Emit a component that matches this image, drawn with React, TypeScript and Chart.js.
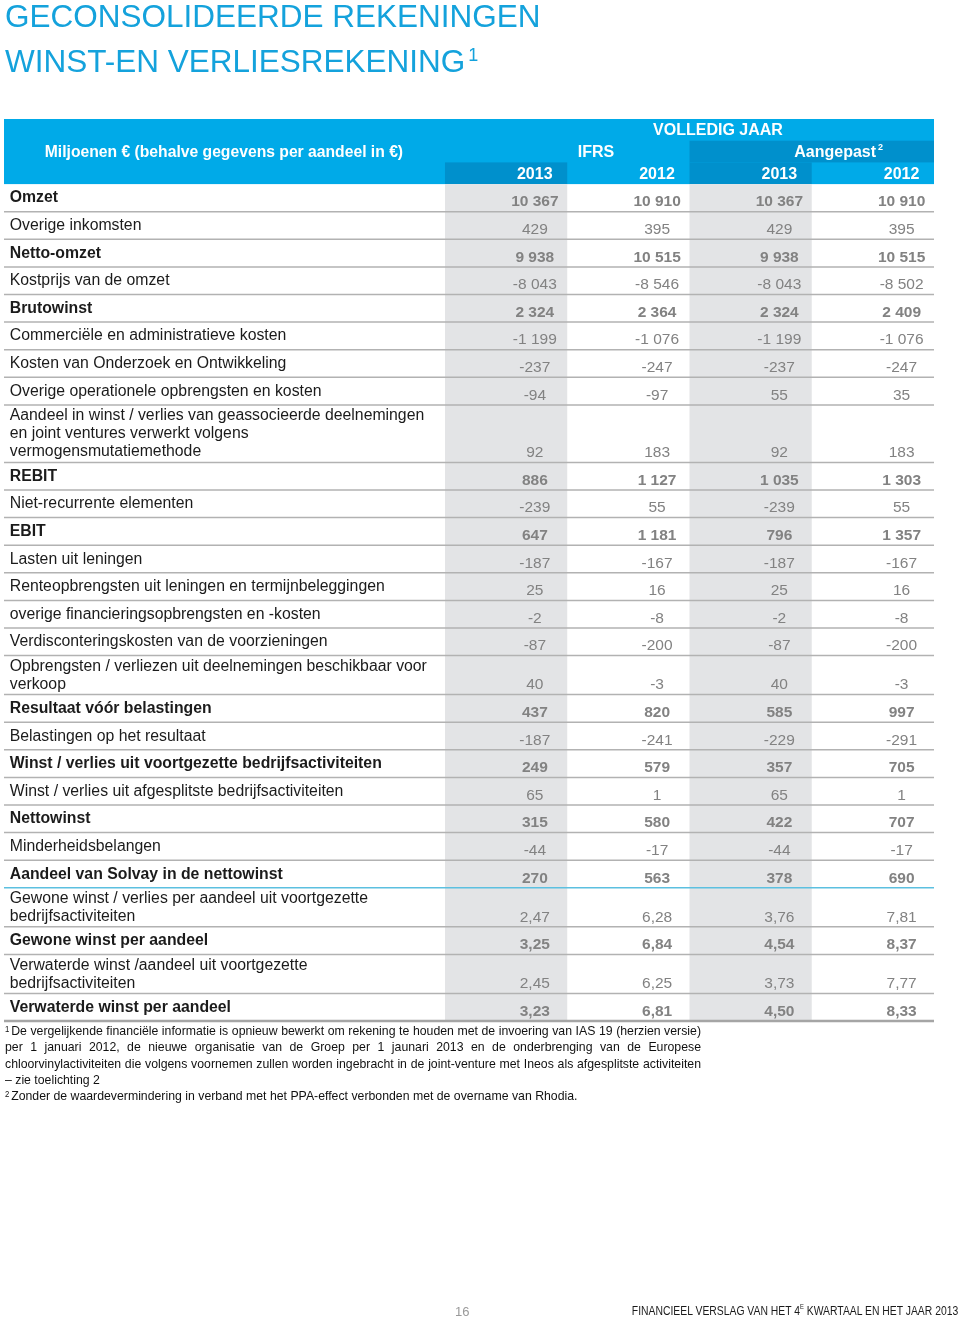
import React, { useEffect, useRef } from "react";
import { Chart, registerables } from "chart.js";

Chart.register(...registerables);

// ---------- Data ----------
const titleLines = ["GECONSOLIDEERDE REKENINGEN", "WINST-EN VERLIESREKENING"];
const unitLabel = "Miljoenen € (behalve gegevens per aandeel in €)";
const periodLabel = "VOLLEDIG JAAR";
const groupLabels = ["IFRS", "Aangepast"];
const yearLabels = ["2013", "2012", "2013", "2012"];

const rowLabels = [
  "Omzet",
  "Overige inkomsten",
  "Netto-omzet",
  "Kostprijs van de omzet",
  "Brutowinst",
  "Commerciële en administratieve kosten",
  "Kosten van Onderzoek en Ontwikkeling",
  "Overige operationele opbrengsten en kosten",
  "Aandeel in winst / verlies van geassocieerde deelnemingen\nen joint ventures verwerkt volgens\nvermogensmutatiemethode",
  "REBIT",
  "Niet-recurrente elementen",
  "EBIT",
  "Lasten uit leningen",
  "Renteopbrengsten uit leningen en termijnbeleggingen",
  "overige financieringsopbrengsten en -kosten",
  "Verdisconteringskosten van de voorzieningen",
  "Opbrengsten / verliezen uit deelnemingen beschikbaar voor\nverkoop",
  "Resultaat vóór belastingen",
  "Belastingen op het resultaat",
  "Winst / verlies uit voortgezette bedrijfsactiviteiten",
  "Winst / verlies uit afgesplitste bedrijfsactiviteiten",
  "Nettowinst",
  "Minderheidsbelangen",
  "Aandeel van Solvay in de nettowinst",
  "Gewone winst / verlies per aandeel uit voortgezette\nbedrijfsactiviteiten",
  "Gewone winst per aandeel",
  "Verwaterde winst /aandeel uit voortgezette\nbedrijfsactiviteiten",
  "Verwaterde winst per aandeel",
];

const subtotalRows = [0, 2, 4, 9, 11, 17, 19, 21, 23, 25, 27];
const perShareRows = [24, 25, 26, 27];
const sectionEndRows = [23];

const ifrs2013 = [10367, 429, 9938, -8043, 2324, -1199, -237, -94, 92, 886, -239, 647, -187, 25, -2, -87, 40, 437, -187, 249, 65, 315, -44, 270, 2.47, 3.25, 2.45, 3.23];
const ifrs2012 = [10910, 395, 10515, -8546, 2364, -1076, -247, -97, 183, 1127, 55, 1181, -167, 16, -8, -200, -3, 820, -241, 579, 1, 580, -17, 563, 6.28, 6.84, 6.25, 6.81];
const adj2013 = [10367, 429, 9938, -8043, 2324, -1199, -237, 55, 92, 1035, -239, 796, -187, 25, -2, -87, 40, 585, -229, 357, 65, 422, -44, 378, 3.76, 4.54, 3.73, 4.5];
const adj2012 = [10910, 395, 10515, -8502, 2409, -1076, -247, 35, 183, 1303, 55, 1357, -167, 16, -8, -200, -3, 997, -291, 705, 1, 707, -17, 690, 7.81, 8.37, 7.77, 8.33];

const seriesColumns = [ifrs2013, ifrs2012, adj2013, adj2012];

const footnote1Lines = [
  "De vergelijkende financiële informatie is opnieuw bewerkt om rekening te houden met de invoering van IAS 19 (herzien versie)",
  "per 1 januari 2012, de nieuwe organisatie van de Groep per 1 jaunari 2013 en de onderbrenging van de Europese",
  "chloorvinylactiviteiten die  volgens voornemen zullen worden ingebracht in de joint-venture met Ineos als afgesplitste activiteiten",
  "– zie toelichting 2",
];
const footnote2 = "Zonder de waardevermindering in verband met het PPA-effect verbonden met de overname van Rhodia.";
const pageNumber = "16";
const footerBefore = "FINANCIEEL VERSLAG VAN HET 4";
const footerSup = "E";
const footerAfter = " KWARTAAL EN HET JAAR 2013";

// ---------- Layout / style ----------
const FONT = '"Liberation Sans", Arial, Helvetica, sans-serif';
const TITLE_BLUE = "#14a2dc";
const HEAD_LIGHT = "#00aae8";
const HEAD_DARK = "#0090cc";
const SHADE = "#e3e4e6";
const RULE = "#b2b2b2";
const RULE_BLUE = "#5cc0e0";
const LABEL_COLOR = "#1b1b1b";
const VALUE_COLOR = "#828282";

const LABEL_UNITS = 3.607;
const HEADER_SUB = 21.7;
const HEADER_H = HEADER_SUB * 3;
const VALUE_CENTER = 0.735;
const YEAR_RIGHT = 0.88;
const LABEL_X = -3.56;

const lineCount = (s: string) => s.split("\n").length;
const rowHeight = (n: number) => (n === 1 ? 27.6 : 2 + 18.5 * n);

const rowTops: number[] = [];
const rowBottoms: number[] = [];
{
  let acc = HEADER_H;
  rowLabels.forEach((l) => {
    rowTops.push(acc);
    acc += rowHeight(lineCount(l));
    rowBottoms.push(acc);
  });
}
const TOTAL = rowBottoms[rowBottoms.length - 1];
const TABLE_TOP = 119;

function fmt(v: number, perShare: boolean) {
  if (perShare) return v.toFixed(2).replace(".", ",");
  const s = Math.abs(v).toString().replace(/\B(?=(\d{3})+(?!\d))/g, " ");
  return (v < 0 ? "-" : "") + s;
}

const tablePlugin = {
  id: "tableCells",
  beforeDatasetsDraw(chart: any) {
    const { ctx } = chart;
    const xs = chart.scales.x;
    const ys = chart.scales.y;
    const X = (v: number) => xs.getPixelForValue(v);
    const Y = (v: number) => ys.getPixelForValue(v);
    const rect = (x0: number, x1: number, y0: number, y1: number, c: string) => {
      ctx.fillStyle = c;
      ctx.fillRect(X(x0), Y(y0), X(x1) - X(x0), Y(y1) - Y(y0));
    };
    ctx.save();
    // header
    rect(-LABEL_UNITS, 4, 0, HEADER_H, HEAD_LIGHT);
    rect(2, 4, HEADER_SUB, HEADER_SUB * 2, HEAD_DARK);
    rect(0, 1, HEADER_SUB * 2, HEADER_H, HEAD_DARK);
    rect(2, 3, HEADER_SUB * 2, HEADER_H, HEAD_DARK);
    // shaded columns
    rect(0, 1, HEADER_H, TOTAL, SHADE);
    rect(2, 3, HEADER_H, TOTAL, SHADE);
    // rules
    rowBottoms.forEach((b, i) => {
      const last = i === rowBottoms.length - 1;
      ctx.strokeStyle = sectionEndRows.includes(i) ? RULE_BLUE : last ? "#a5a5a5" : RULE;
      ctx.lineWidth = last ? 2.5 : 1.5;
      ctx.beginPath();
      ctx.moveTo(X(-LABEL_UNITS), Y(b));
      ctx.lineTo(X(4), Y(b));
      ctx.stroke();
    });
    ctx.restore();
  },
  afterDatasetsDraw(chart: any) {
    const { ctx } = chart;
    const xs = chart.scales.x;
    const ys = chart.scales.y;
    const X = (v: number) => xs.getPixelForValue(v);
    const Y = (v: number) => ys.getPixelForValue(v);
    ctx.save();
    ctx.textBaseline = "middle";
    // header texts
    ctx.fillStyle = "#ffffff";
    ctx.font = `bold 16px ${FONT}`;
    ctx.textAlign = "center";
    ctx.fillText(periodLabel, X(2.233), Y(HEADER_SUB * 0.5 + 1));
    ctx.font = `bold 15.7px ${FONT}`;
    ctx.fillText(unitLabel, X(-1.808), Y(HEADER_SUB * 1.5 + 1.5));
    ctx.font = `bold 16px ${FONT}`;
    ctx.fillText(groupLabels[0], X(1.235), Y(HEADER_SUB * 1.5 + 1.5));
    ctx.textAlign = "right";
    ctx.fillText(groupLabels[1], X(3.526), Y(HEADER_SUB * 1.5 + 1.5));
    ctx.font = `bold 9px ${FONT}`;
    ctx.textAlign = "left";
    ctx.fillText("2", X(3.526) + 2, Y(HEADER_SUB * 1.5 + 1.5) - 6);
    ctx.font = `bold 16px ${FONT}`;
    ctx.textAlign = "right";
    yearLabels.forEach((yl, c) => ctx.fillText(yl, X(c + YEAR_RIGHT), Y(HEADER_SUB * 2.5 + 1.5)));
    // row labels
    ctx.textAlign = "left";
    ctx.fillStyle = LABEL_COLOR;
    rowLabels.forEach((l, i) => {
      ctx.font = `${subtotalRows.includes(i) ? "bold " : ""}15.8px ${FONT}`;
      const lines = l.split("\n");
      const first = lines.length === 1 ? 14 : 11;
      lines.forEach((line, k) => {
        ctx.fillText(line, X(LABEL_X), Y(rowTops[i] + first + 18.1 * k));
      });
    });
    // values from dataset elements
    ctx.textAlign = "center";
    ctx.fillStyle = VALUE_COLOR;
    chart.data.datasets.forEach((_ds: any, di: number) => {
      const meta = chart.getDatasetMeta(di);
      meta.data.forEach((el: any, i: number) => {
        ctx.font = `${subtotalRows.includes(i) ? "bold " : ""}15.5px ${FONT}`;
        ctx.fillText(fmt(seriesColumns[di][i], perShareRows.includes(i)), el.x, el.y);
      });
    });
    ctx.restore();
  },
};

export default function App() {
  const canvasRef = useRef<HTMLCanvasElement | null>(null);

  useEffect(() => {
    const canvas = canvasRef.current;
    if (!canvas) return;
    const chart = new Chart(canvas, {
      type: "scatter",
      data: {
        datasets: seriesColumns.map((vals, c) => ({
          label: yearLabels[c],
          data: vals.map((_v, i) => ({ x: c + VALUE_CENTER, y: rowBottoms[i] - 9.5 })),
          pointRadius: 0,
          showLine: false,
        })),
      },
      options: {
        responsive: false,
        animation: false,
        events: [],
        layout: { padding: { top: TABLE_TOP, left: 4, right: 26, bottom: 1320 - TABLE_TOP - TOTAL } },
        plugins: { legend: { display: false }, tooltip: { enabled: false } },
        scales: {
          x: { type: "linear", display: false, min: -LABEL_UNITS, max: 4 },
          y: { type: "linear", display: false, reverse: true, min: 0, max: TOTAL },
        },
      },
      plugins: [tablePlugin],
    } as any);
    return () => chart.destroy();
  }, []);

  const footTop = TABLE_TOP + TOTAL + 2;
  const NSCALE = 0.91;
  const supStyle = { fontSize: 8.5, verticalAlign: "top", position: "relative" as const, top: -2, marginRight: 2 };

  return (
    <div style={{ position: "absolute", left: 0, top: 0, width: 960, height: 1320, background: "#fff", overflow: "hidden" }}>
      <canvas ref={canvasRef} width={960} height={1320} style={{ position: "absolute", left: 0, top: 0, width: 960, height: 1320 }} />
      <div style={{ position: "absolute", left: 5, top: 0, fontFamily: FONT, fontSize: 31.5, lineHeight: "32px", color: TITLE_BLUE, whiteSpace: "nowrap" }}>
        {titleLines[0]}
      </div>
      <div style={{ position: "absolute", left: 5, top: 45, fontFamily: FONT, fontSize: 31.5, lineHeight: "32px", color: TITLE_BLUE, whiteSpace: "nowrap" }}>
        {titleLines[1]}
        <sup style={{ fontSize: 18, verticalAlign: "top", position: "relative", top: -6, marginLeft: 3 }}>1</sup>
      </div>
      <div
        style={{
          position: "absolute",
          left: 5,
          top: footTop,
          width: 696 / NSCALE,
          transform: `scaleX(${NSCALE})`,
          transformOrigin: "0 0",
          fontFamily: FONT,
          fontSize: 13.5,
          lineHeight: "16.3px",
          color: "#111",
        }}
      >
        {footnote1Lines.map((l, i) => (
          <div key={i} style={{ textAlign: "justify", textAlignLast: i < footnote1Lines.length - 1 ? "justify" : "left", whiteSpace: "nowrap" } as any}>
            {i === 0 && <sup style={supStyle as any}>1</sup>}
            {l}
          </div>
        ))}
        <div>
          <sup style={supStyle as any}>2</sup>
          {footnote2}
        </div>
      </div>
      <div style={{ position: "absolute", left: 455, top: 1304, fontFamily: FONT, fontSize: 13, color: "#9a9a9a" }}>{pageNumber}</div>
      <div
        style={{
          position: "absolute",
          right: 2,
          top: 1304,
          fontFamily: FONT,
          fontSize: 12.5,
          color: "#1a1a1a",
          whiteSpace: "nowrap",
          transform: "scaleX(0.83)",
          transformOrigin: "100% 0",
        }}
      >
        {footerBefore}
        <sup style={{ fontSize: 7, verticalAlign: "top", position: "relative", top: -1 }}>{footerSup}</sup>
        {footerAfter}
      </div>
    </div>
  );
}
